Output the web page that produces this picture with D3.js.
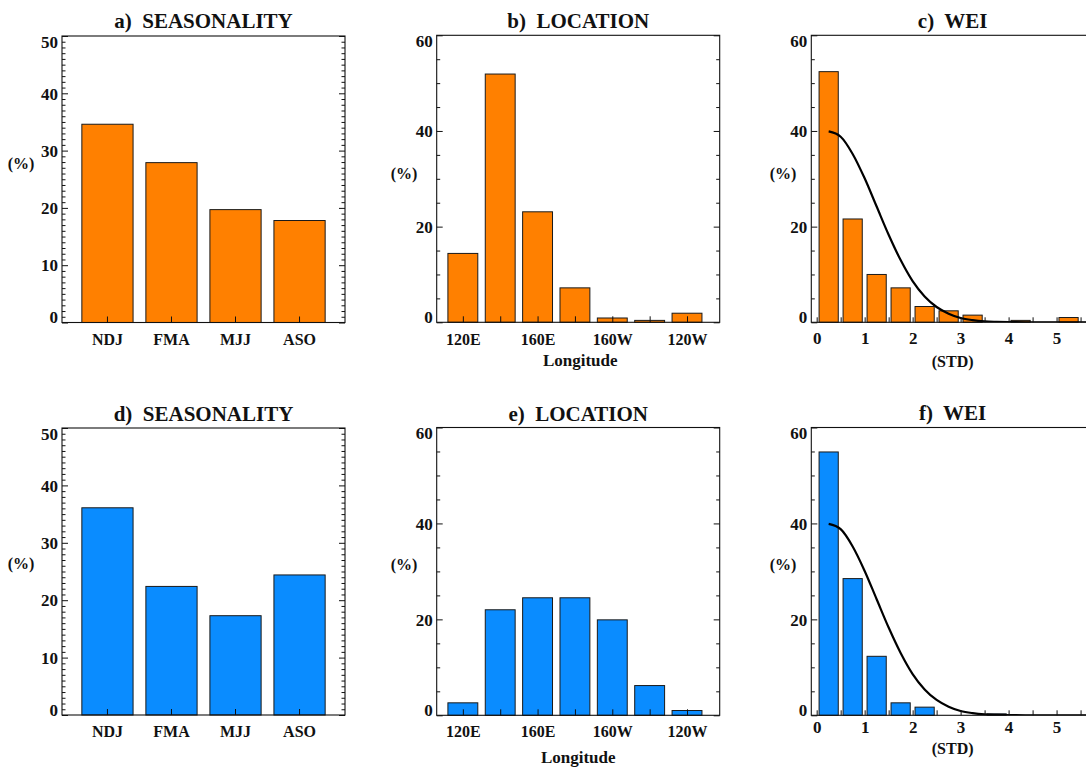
<!DOCTYPE html>
<html><head><meta charset="utf-8">
<script src="https://cdn.jsdelivr.net/npm/d3@7"></script>
<style>
html,body{margin:0;padding:0;background:#fff;}
svg{display:block;}
text{font-family:'Liberation Serif','Times New Roman',serif;font-weight:bold;fill:#111;}
</style></head>
<body>
<script>
// ---------------- DATA ----------------
const seasons = ["NDJ", "FMA", "MJJ", "ASO"];
const seasonTop = [34.6, 27.9, 19.7, 17.8];
const seasonBottom = [36.1, 22.4, 17.3, 24.4];

const lonCenters = [120, 140, 160, 180, 200, 220, 240];
const lonTickLabels = ["120E", "", "160E", "", "160W", "", "120W"];
const lonTop = [14.4, 51.9, 23.1, 7.2, 0.9, 0.4, 1.9];
const lonBottom = [2.6, 22.0, 24.5, 24.5, 19.9, 6.2, 1.0];

const weiBins = [0.25, 0.75, 1.25, 1.75, 2.25, 2.75, 3.25, 3.75, 4.25, 4.75, 5.25];
const weiTop = [52.4, 21.6, 10.0, 7.2, 3.3, 2.4, 1.5, 0, 0.4, 0, 1.0];
const weiBottom = [54.9, 28.5, 12.3, 2.6, 1.7, 0, 0, 0.3, 0, 0, 0];
const weiTicks = [0, 0.5, 1, 1.5, 2, 2.5, 3, 3.5, 4, 4.5, 5, 5.5];
const weiTickLabels = ["0", "", "1", "", "2", "", "3", "", "4", "", "5", ""];

const curveX = [0.25, 0.5, 0.75, 1.0, 1.25, 1.5, 1.75, 2.0, 2.25, 2.5, 2.75, 3.0, 3.25, 3.5, 3.75, 4.0, 4.5, 5.0, 5.5, 5.9];
const curveY = [39.9, 38.8, 35.2, 30.1, 24.2, 18.3, 13.0, 8.6, 5.4, 3.2, 1.8, 0.9, 0.45, 0.2, 0.1, 0.04, 0, 0, 0, 0];

const titles = ["a)  SEASONALITY", "b)  LOCATION", "c)  WEI", "d)  SEASONALITY", "e)  LOCATION", "f)  WEI"];

// ---------------- DRAWING ----------------
const ORANGE = "#ff8000", BLUE = "#0a8cff";
const svg = d3.select("body").append("svg").attr("width", 1086).attr("height", 773);

function yAxes(g, y, L, R, maxV, majors, minors) {
  const left = g.append("g").attr("transform", `translate(${L},0)`)
    .call(d3.axisLeft(y).tickValues(majors).tickSizeInner(-6).tickSizeOuter(0).tickPadding(4).tickFormat(d3.format("d")));
  left.select(".domain").remove();
  left.selectAll("line").attr("stroke", "#111");
  left.selectAll("text").attr("font-size", 17).attr("fill", "#111")
    .attr("dy", d => d === maxV ? "0.66em" : (d === 0 ? "0em" : "0.34em"));
  const leftMinor = g.append("g").attr("transform", `translate(${L},0)`)
    .call(d3.axisLeft(y).tickValues(minors).tickSizeInner(-3.5).tickSizeOuter(0).tickFormat(""));
  leftMinor.select(".domain").remove();
  leftMinor.selectAll("line").attr("stroke", "#111");
  const right = g.append("g").attr("transform", `translate(${R},0)`)
    .call(d3.axisRight(y).tickValues(majors).tickSizeInner(-6).tickSizeOuter(0).tickFormat(""));
  right.select(".domain").remove();
  right.selectAll("line").attr("stroke", "#111");
  const rightMinor = g.append("g").attr("transform", `translate(${R},0)`)
    .call(d3.axisRight(y).tickValues(minors).tickSizeInner(-3.5).tickSizeOuter(0).tickFormat(""));
  rightMinor.select(".domain").remove();
  rightMinor.selectAll("line").attr("stroke", "#111");
}

function panel(opt) {
  const g = svg.append("g");
  const {L, R, T, B} = opt;
  const y = d3.scaleLinear().domain([0, opt.ymax]).range([B, T]);
  let x, bw, xs;
  if (opt.kind === "season") {
    x = d3.scaleBand().domain(opt.cats).range([L, R]).paddingInner(0.2).paddingOuter(0.31);
    bw = x.bandwidth();
    xs = i => x(opt.cats[i]);
  } else if (opt.kind === "lon") {
    x = d3.scaleLinear().domain([106, 257.5]).range([L, R]);
    bw = x(136) - x(120);
    xs = i => x(opt.centers[i]) - bw / 2;
  } else {
    x = d3.scaleLinear().domain([-0.112, 5.78]).range([L, R]);
    bw = x(0.4) - x(0);
    xs = i => x(opt.centers[i]) - bw / 2;
  }
  const clipId = "clip" + opt.id;
  g.append("clipPath").attr("id", clipId).append("rect").attr("x", L).attr("y", T).attr("width", R - L).attr("height", B - T);

  // bars
  const barData = opt.values.map((v, i) => ({v, i})).filter(d => d.v > 0);
  g.append("g").selectAll("rect").data(barData).join("rect")
    .attr("x", d => xs(d.i))
    .attr("y", d => y(d.v))
    .attr("width", bw)
    .attr("height", d => B - y(d.v))
    .attr("fill", opt.color)
    .attr("stroke", "#1a1a1a")
    .attr("stroke-width", 1);

  // curve
  if (opt.curve) {
    const line = d3.line().x((d, i) => x(curveX[i])).y(d => y(d)).curve(d3.curveMonotoneX);
    g.append("path").datum(curveY).attr("d", line).attr("fill", "none")
      .attr("stroke", "#000").attr("stroke-width", 2.2).attr("clip-path", `url(#${clipId})`);
  }

  // frame
  g.append("rect").attr("x", L).attr("y", T).attr("width", R - L).attr("height", B - T)
    .attr("fill", "none").attr("stroke", "#111").attr("stroke-width", 1.1);

  // y axes
  yAxes(g, y, L, R, opt.ymax, opt.majors, opt.minors);

  // x axis
  let xa;
  if (opt.kind === "season") {
    xa = d3.axisBottom(x).tickSizeInner(-6).tickSizeOuter(0);
  } else if (opt.kind === "lon") {
    xa = d3.axisBottom(x).tickValues(opt.centers).tickSizeInner(-6).tickSizeOuter(0)
      .tickFormat((d, i) => lonTickLabels[i]);
  } else {
    xa = d3.axisBottom(x).tickValues(weiTicks).tickSizeInner(-5).tickSizeOuter(0)
      .tickFormat((d, i) => weiTickLabels[i]);
  }
  const xg = g.append("g").attr("transform", `translate(0,${B})`).call(xa);
  xg.select(".domain").remove();
  xg.selectAll("line").attr("stroke", "#111");
  xg.selectAll("text").attr("font-size", opt.kind === "wei" ? 17 : 16).attr("fill", "#111").attr("y", opt.xlabOff).attr("dy", "0");

  // title
  g.append("text").attr("x", (L + R) / 2).attr("y", opt.titleY).attr("text-anchor", "middle")
    .attr("font-size", 21).style("white-space", "pre").text(opt.title);
  // y label
  g.append("text").attr("x", opt.ylabX).attr("y", opt.ylabY).attr("text-anchor", "middle")
    .attr("font-size", 16).text("(%)");
  // x label
  if (opt.xtitle) {
    g.append("text").attr("x", (L + R) / 2 + (opt.xtitleDx || 0)).attr("y", opt.xtitleY).attr("text-anchor", "middle")
      .attr("font-size", opt.xtitleSize).text(opt.xtitle);
  }
}

const opts = [
  {id: "a", kind: "season", L: 62, R: 345, T: 36, B: 322.5, ymax: 50, cats: seasons, values: seasonTop, color: ORANGE,
   majors: [0, 10, 20, 30, 40, 50], minors: d3.range(1, 50).filter(v => v % 10 !== 0),
   title: titles[0], titleY: 28, ylabX: 21, ylabY: 169, xlabOff: 22.5},
  {id: "b", kind: "lon", L: 436.7, R: 719.7, T: 35.3, B: 322.3, ymax: 60, centers: lonCenters, values: lonTop, color: ORANGE,
   majors: [0, 20, 40, 60], minors: [5, 10, 15, 25, 30, 35, 45, 50, 55],
   title: titles[1], titleY: 28.3, ylabX: 404, ylabY: 178.5, xlabOff: 22.5, xtitle: "Longitude", xtitleY: 366, xtitleSize: 17, xtitleDx: 2},
  {id: "c", kind: "wei", L: 811.3, R: 1094, T: 35.3, B: 322.3, ymax: 60, centers: weiBins, values: weiTop, color: ORANGE, curve: true,
   majors: [0, 20, 40, 60], minors: [5, 10, 15, 25, 30, 35, 45, 50, 55],
   title: titles[2], titleY: 28.3, ylabX: 783, ylabY: 178.5, xlabOff: 22, xtitle: "(STD)", xtitleY: 366.5, xtitleSize: 16, xtitleDx: 0},
  {id: "d", kind: "season", L: 62, R: 345, T: 428, B: 715, ymax: 50, cats: seasons, values: seasonBottom, color: BLUE,
   majors: [0, 10, 20, 30, 40, 50], minors: d3.range(1, 50).filter(v => v % 10 !== 0),
   title: titles[3], titleY: 420.7, ylabX: 21, ylabY: 568.7, xlabOff: 22},
  {id: "e", kind: "lon", L: 436.7, R: 719.7, T: 427.5, B: 715.3, ymax: 60, centers: lonCenters, values: lonBottom, color: BLUE,
   majors: [0, 20, 40, 60], minors: [5, 10, 15, 25, 30, 35, 45, 50, 55],
   title: titles[4], titleY: 420.7, ylabX: 404, ylabY: 570, xlabOff: 21.7, xtitle: "Longitude", xtitleY: 763, xtitleSize: 17, xtitleDx: 0},
  {id: "f", kind: "wei", L: 811.3, R: 1094, T: 427.5, B: 715.3, ymax: 60, centers: weiBins, values: weiBottom, color: BLUE, curve: true,
   majors: [0, 20, 40, 60], minors: [5, 10, 15, 25, 30, 35, 45, 50, 55],
   title: titles[5], titleY: 420.3, ylabX: 783, ylabY: 570, xlabOff: 18, xtitle: "(STD)", xtitleY: 753.5, xtitleSize: 16, xtitleDx: 0}
];
opts.forEach(o => panel(o));
</script>
</body></html>
